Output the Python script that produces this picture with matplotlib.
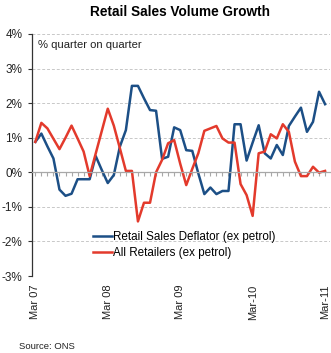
import numpy as np
import matplotlib
matplotlib.use("Agg")
import matplotlib.pyplot as plt

plt.rcParams['font.family'] = ['Liberation Sans', 'DejaVu Sans']

# monthly, Mar 07 .. Mar 11 (% quarter on quarter)
deflator = [0.88, 1.12, 0.75, 0.40, -0.50, -0.68, -0.62, -0.20, -0.20, -0.20,
            0.47, 0.07, -0.31, -0.08, 0.74, 1.22, 2.50, 2.50, 2.14, 1.80,
            1.78, 0.39, 0.45, 1.30, 1.22, 0.64, 0.62, -0.03, -0.63, -0.44,
            -0.63, -0.54, -0.54, 1.39, 1.39, 0.34, 0.86, 1.36, 0.55, 0.40,
            0.79, 0.50, 1.34, 1.61, 1.87, 1.17, 1.46, 2.33, 1.97]
all_retail = [0.88, 1.43, 1.27, 0.97, 0.67, 1.00, 1.35, 0.98, 0.60, -0.11,
              0.54, 1.19, 1.84, 1.35, 0.70, 0.04, 0.04, -1.42, -0.88, -0.88,
              0.00, 0.36, 0.84, 0.93, 0.25, -0.37, 0.10, 0.55, 1.20, 1.27,
              1.34, 0.98, 0.86, 0.86, -0.34, -0.66, -1.26, 0.55, 0.60, 1.10,
              0.98, 1.39, 1.17, 0.31, -0.11, -0.11, 0.16, -0.01, 0.04]
label_pos = [0, 12, 24, 36, 48]
labels = ['Mar 07', 'Mar 08', 'Mar 09', 'Mar-10', 'Mar-11']
yticks = [-3, -2, -1, 0, 1, 2, 3, 4]

blue = '#1c4f86'
red = '#e33a2c'

months = np.arange(len(deflator))

fig = plt.figure(figsize=(3.31, 3.53), dpi=100)
ax = fig.add_axes([0.0967, 0.218, 0.9, 0.6857])

# grid
for v in yticks:
    if v == 0:
        continue
    ax.axhline(v, color='#c8c8c8', lw=0.7, ls=(0, (3, 2)), zorder=0)

l1, = ax.plot(months, deflator, color=blue, lw=1.8, label='Retail Sales Deflator (ex petrol)')
l2, = ax.plot(months, all_retail, color=red, lw=1.8, label='All Retailers (ex petrol)')

ax.set_xlim(-0.55, 48.8)
ax.set_ylim(-3, 4)
ax.set_yticks(yticks)
ax.set_yticklabels([f'{v}%' for v in yticks], fontsize=8.5, color='#222222')
ax.tick_params(axis='y', length=3, width=0.8, color='#333333', pad=4)

for s in ['top', 'right']:
    ax.spines[s].set_visible(False)
ax.spines['left'].set_color('#333333')
ax.spines['left'].set_linewidth(0.9)

# zero line with monthly ticks
ax.spines['bottom'].set_position(('data', 0))
ax.spines['bottom'].set_color('#a8a8a8')
ax.spines['bottom'].set_linewidth(0.9)
ax.set_xticks(months)
ax.set_xticklabels([])
ax.tick_params(axis='x', direction='out', length=3, width=0.8, color='#a8a8a8')

sec = ax.secondary_xaxis(0.0)
sec.set_xticks(label_pos)
sec.set_xticklabels(labels, rotation=90, fontsize=8, color='#222222')
sec.tick_params(length=0, pad=6)
sec.spines['bottom'].set_visible(False)

ax.text(0.02, 0.955, '% quarter on quarter', transform=ax.transAxes,
        fontsize=8.1, color='#222222', va='center', ha='left')

fig.text(0.545, 0.966, 'Retail Sales Volume Growth', fontsize=9.8,
         fontweight='bold', ha='center', va='center')
fig.text(0.057, 0.018, 'Source: ONS', fontsize=6.8, ha='left', va='center',
         color='#222222')

fig.legend(handles=[l1, l2], loc='center left', bbox_to_anchor=(0.281, 0.306),
           frameon=False, fontsize=8.4, handlelength=1.65, handletextpad=0.1,
           labelspacing=0.3, borderpad=0, borderaxespad=0)

fig.savefig('out.png', dpi=100)
